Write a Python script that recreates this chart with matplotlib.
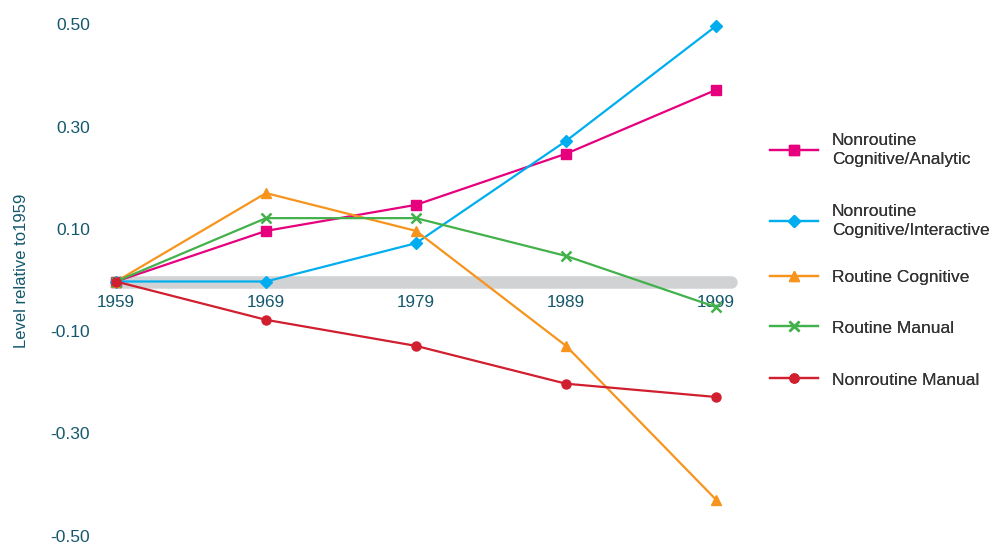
import matplotlib
matplotlib.use("Agg")
import matplotlib.pyplot as plt

plt.rcParams['font.family'] = ['Liberation Sans', 'DejaVu Sans']

years = [1959, 1969, 1979, 1989, 1999]
year_labels = ["1959", "1969", "1979", "1989", "1999"]
analytic = [0.0, 0.099, 0.150, 0.250, 0.375]
interactive = [0.0, 0.0, 0.075, 0.275, 0.500]
routine_cog = [0.0, 0.173, 0.099, -0.126, -0.427]
routine_man = [0.0, 0.124, 0.124, 0.050, -0.050]
nonroutine_man = [0.0, -0.075, -0.126, -0.200, -0.226]
yticks = [-0.5, -0.3, -0.1, 0.1, 0.3, 0.5]
ytick_labels = ["-0.50", "-0.30", "-0.10", "0.10", "0.30", "0.50"]
series_names = ["Nonroutine\nCognitive/Analytic", "Nonroutine\nCognitive/Interactive",
                "Routine Cognitive", "Routine Manual", "Nonroutine Manual"]

series = [analytic, interactive, routine_cog, routine_man, nonroutine_man]
colors = ["#e6007e", "#00aeef", "#f7941d", "#43b14b", "#d11f2f"]
markers = ["s", "D", "^", "x", "o"]
msizes = [7, 6.5, 7, 7, 6.5]

W, H = 995, 544
fig = plt.figure(figsize=(W / 100, H / 100), dpi=100)

x0, x1 = 1956.6, 2000.93
y0, y1 = -0.51, 0.52
left_px, right_px = 80, 745
top_px = 281.5 - 0.52 * 511
bot_px = 281.5 + 0.51 * 511
ax = fig.add_axes([left_px / W, (H - bot_px) / H, (right_px - left_px) / W, (bot_px - top_px) / H])
ax.set_xlim(x0, x1)
ax.set_ylim(y0, y1)
ax.axis('off')

teal = "#14586c"
# zero reference bar
ax.plot([years[0], 2000.0], [0, 0], color="#d1d2d4", lw=9, solid_capstyle='round', zorder=1)

handles = []
for vals, c, m, ms, name in zip(series, colors, markers, msizes, series_names):
    mew = 1.8 if m == "x" else 1
    h, = ax.plot(years, vals, color=c, lw=1.6, marker=m, markersize=ms, markeredgewidth=mew,
                 label=name, zorder=3)
    handles.append(h)

for yr, lab in zip(years, year_labels):
    ax.text(yr, -0.042, lab, ha='center', va='center', color=teal, fontsize=12.3, zorder=2)

for yv, lab in zip(yticks, ytick_labels):
    ax.text(1959 - 26 / 15, yv, lab, ha='right', va='center', color=teal, fontsize=12.5)

fig.text(22 / W, 1 - 271 / H, "Level relative to1959", rotation=90, ha='center', va='center',
         color=teal, fontsize=12)

leg_y = [150, 221, 277, 328, 380]
for h, yp in zip(handles, leg_y):
    lg = fig.legend(handles=[h], loc='center left', bbox_to_anchor=(770 / W, 1 - yp / H),
                    frameon=False, fontsize=12.5, handlelength=2.76, handletextpad=0.8,
                    borderaxespad=0, borderpad=0)
    for t in lg.get_texts():
        t.set_color("#333333")
        t.set_linespacing(1.35)
    fig.add_artist(lg)

fig.savefig("out.png", dpi=100)
